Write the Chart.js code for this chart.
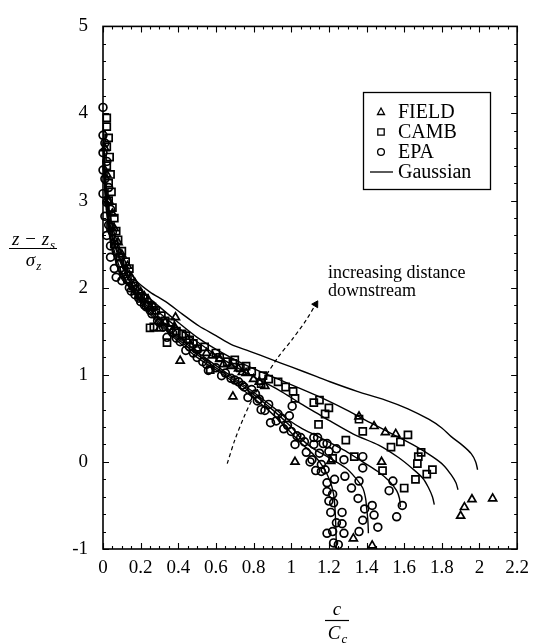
<!DOCTYPE html>
<html>
<head>
<meta charset="utf-8">
<script src="https://cdn.jsdelivr.net/npm/chart.js@4.4.0/dist/chart.umd.min.js"></script>
<style>
  html, body { margin: 0; padding: 0; background: #fff; }
</style>
</head>
<body>
<canvas id="grafico" width="537" height="644"></canvas>
<script>
// ticks
const xTicks = [0, 0.2, 0.4, 0.6, 0.8, 1, 1.2, 1.4, 1.6, 1.8, 2, 2.2];
const yTicks = [-1, 0, 1, 2, 3, 4, 5];

// legend names
const nomes = ["FIELD", "CAMB", "EPA", "Gaussian"];

// measured points [c/Cc, (z-zs)/sigma_z]
const field = [
  [0.01,3.6],[0.02,3.3],[0.03,3.0],[0.05,2.85],[0.06,2.68],[0.08,2.52],[0.1,2.38],[0.13,2.25],
  [0.15,2.12],[0.17,2.05],[0.2,1.95],[0.24,1.86],[0.3,1.53],[0.385,1.66],[0.41,1.16],[0.45,1.4],
  [0.5,1.3],[0.58,1.22],[0.64,1.12],[0.69,0.75],[0.72,1.07],[0.76,1.02],[0.8,0.95],[0.86,0.87],
  [0.22,1.9],[0.27,1.78],[0.33,1.6],[0.38,1.55],[0.55,1.25],[0.62,1.18],[0.68,1.1],[0.74,1.03],[0.83,0.92],
  [1.02,0.0],[1.21,0.01],[1.36,0.52],[1.44,0.41],[1.50,0.34],[1.555,0.32],[1.48,0.0],
  [1.33,-0.88],[1.43,-0.96],[1.90,-0.62],[1.92,-0.52],[1.96,-0.43],[2.07,-0.42]
];
const camb = [
  [0.02,3.95],[0.02,3.85],[0.03,3.72],[0.02,3.62],[0.035,3.5],[0.02,3.4],[0.04,3.3],[0.03,3.2],
  [0.045,3.1],[0.03,3.0],[0.05,2.92],[0.06,2.8],[0.04,2.7],[0.07,2.65],[0.08,2.55],[0.06,2.5],
  [0.1,2.42],[0.09,2.35],[0.12,2.3],[0.11,2.2],[0.14,2.22],[0.13,2.1],
  [0.16,2.02],[0.19,1.93],[0.22,1.88],[0.24,1.8],[0.28,1.74],[0.31,1.68],[0.25,1.54],[0.27,1.55],
  [0.17,1.98],[0.2,1.9],[0.26,1.78],[0.33,1.62],[0.39,1.5],[0.44,1.45],[0.48,1.36],[0.6,1.25],
  [0.7,1.17],[0.76,1.1],[0.88,0.95],[0.97,0.86],
  [0.34,1.37],[0.36,1.6],[0.42,1.47],[0.46,1.4],[0.5,1.3],[0.54,1.32],[0.57,1.06],[0.62,1.2],
  [0.66,1.15],[0.69,1.13],[0.73,1.08],[0.79,1.04],[0.84,0.9],[0.85,0.99],[0.93,0.92],[1.01,0.81],
  [1.12,0.68],[1.02,0.73],[1.15,0.71],[1.20,0.62],[1.18,0.55],[1.145,0.43],[1.36,0.49],[1.38,0.35],
  [1.29,0.25],[1.53,0.17],[1.58,0.23],[1.62,0.31],[1.335,0.06],[1.22,0.04],[1.485,-0.10],[1.69,0.11],
  [1.675,0.06],[1.67,-0.02],[1.75,-0.09],[1.72,-0.14],[1.66,-0.20],[1.60,-0.30]
];
const epa = [
  [0.0,4.07],[0.0,3.75],[0.01,3.66],[0.0,3.55],[0.02,3.45],[0.0,3.35],[0.01,3.25],[0.03,3.15],
  [0.0,3.08],[0.02,2.98],[0.04,2.9],[0.01,2.82],[0.03,2.72],[0.05,2.64],[0.02,2.6],[0.04,2.48],
  [0.07,2.42],[0.04,2.35],[0.06,2.22],[0.09,2.28],[0.07,2.12],[0.1,2.08],[0.12,2.16],
  [0.14,2.0],[0.17,1.92],[0.2,1.84],[0.23,1.78],[0.26,1.7],[0.29,1.62],[0.32,1.55],[0.34,1.43],
  [0.15,1.96],[0.19,1.88],[0.22,1.8],[0.25,1.74],[0.3,1.6],[0.36,1.52],[0.39,1.42],[0.46,1.32],
  [0.5,1.2],[0.55,1.12],[0.65,1.02],[0.7,0.94],[0.74,0.88],[0.81,0.78],[0.83,0.72],[0.88,0.66],
  [0.93,0.55],[0.95,0.5],[0.98,0.42],[1.0,0.35],[1.05,0.28],[1.12,0.2],[1.15,0.1],[1.2,0.12],
  [1.16,-0.03],[1.23,-0.2],[1.2,-0.45],[1.24,-0.7],[1.22,-0.8],
  [0.37,1.48],[0.41,1.38],[0.44,1.28],[0.48,1.25],[0.53,1.15],[0.56,1.05],[0.6,1.08],[0.63,0.99],
  [0.68,0.96],[0.72,0.92],[0.75,0.86],[0.77,0.74],[0.79,0.83],[0.82,0.7],[0.84,0.6],
  [0.86,0.59],[0.89,0.45],[0.92,0.47],[0.96,0.38],[0.99,0.53],[1.005,0.64],[1.03,0.30],[1.02,0.2],
  [1.07,0.23],[1.08,0.11],[1.10,0.0],[1.12,0.28],[1.14,0.28],[1.17,0.21],[1.19,0.21],[1.24,0.15],
  [1.11,0.025],[1.13,-0.1],[1.16,-0.11],[1.18,-0.09],[1.19,-0.24],[1.19,-0.34],[1.22,-0.37],
  [1.225,-0.47],[1.21,-0.58],[1.27,-0.58],[1.27,-0.71],[1.28,-0.82],[1.19,-0.82],[1.225,-0.93],
  [1.25,-0.95],[1.28,0.025],[1.285,-0.165],[1.32,-0.30],[1.36,-0.22],[1.355,-0.42],[1.39,-0.54],
  [1.38,-0.67],[1.36,-0.80],[1.43,-0.50],[1.44,-0.61],[1.46,-0.75],[1.38,0.06],[1.38,-0.07],
  [1.54,-0.22],[1.52,-0.33],[1.59,-0.50],[1.56,-0.63]
];

// gaussian profiles, nearest source (F) to farthest (A)
const gaussA = [[0.003,3.8],[0.01,3.4],[0.025,3.0],[0.05,2.7],[0.09,2.45],[0.14,2.2],[0.176,2.08],[0.25,1.95],
  [0.333,1.84],[0.42,1.70],[0.51,1.56],[0.6,1.45],[0.68,1.35],[0.78,1.27],[0.89,1.18],[1.0,1.09],
  [1.136,0.98],[1.206,0.92],[1.35,0.81],[1.50,0.71],[1.62,0.61],[1.73,0.49],[1.80,0.39],[1.85,0.29],
  [1.91,0.19],[1.956,0.095],[1.98,0.0],[1.99,-0.09]];
const gaussB = [[0.003,3.7],[0.01,3.3],[0.02,3.0],[0.045,2.65],[0.08,2.4],[0.13,2.15],[0.2,1.97],[0.3,1.78],
  [0.4,1.6],[0.5,1.43],[0.61,1.28],[0.75,1.12],[0.93,0.95],[1.136,0.76],[1.29,0.60],[1.42,0.45],
  [1.555,0.30],[1.66,0.18],[1.75,0.06],[1.81,-0.04],[1.85,-0.15],[1.875,-0.24],[1.886,-0.32]];
const gaussC = [[0.003,3.6],[0.01,3.25],[0.02,3.0],[0.04,2.65],[0.075,2.4],[0.12,2.15],[0.18,1.97],[0.28,1.75],
  [0.38,1.57],[0.5,1.38],[0.62,1.2],[0.78,1.0],[0.93,0.83],[1.05,0.67],[1.136,0.56],[1.206,0.47],
  [1.33,0.32],[1.467,0.19],[1.57,0.05],[1.64,-0.07],[1.70,-0.19],[1.73,-0.30],[1.75,-0.40],[1.76,-0.49]];
const gaussD = [[0.003,3.5],[0.01,3.2],[0.02,2.95],[0.04,2.6],[0.07,2.35],[0.11,2.12],[0.15,2.0],[0.25,1.75],
  [0.36,1.5],[0.54,1.2],[0.67,1.0],[0.80,0.8],[0.92,0.6],[0.98,0.49],[1.06,0.38],[1.136,0.30],
  [1.206,0.22],[1.30,0.11],[1.38,0.0],[1.46,-0.11],[1.52,-0.22],[1.56,-0.33],[1.575,-0.42],[1.58,-0.52]];
const gaussE = [[0.003,3.5],[0.01,3.15],[0.02,2.9],[0.04,2.55],[0.07,2.3],[0.1,2.12],[0.146,2.0],[0.25,1.72],
  [0.35,1.5],[0.52,1.2],[0.655,1.0],[0.785,0.8],[0.9,0.6],[1.0,0.4],[1.06,0.25],[1.12,0.15],
  [1.2,0.05],[1.29,-0.07],[1.34,-0.18],[1.38,-0.30],[1.395,-0.42],[1.40,-0.52],[1.407,-0.67],[1.41,-0.82]];
const gaussF = [[0.003,3.45],[0.01,3.1],[0.02,2.85],[0.04,2.52],[0.07,2.28],[0.1,2.1],[0.142,2.0],[0.24,1.72],
  [0.34,1.5],[0.50,1.2],[0.64,1.0],[0.76,0.8],[0.875,0.6],[0.97,0.4],[1.05,0.22],[1.12,0.08],
  [1.17,-0.06],[1.206,-0.22],[1.225,-0.37],[1.232,-0.52],[1.237,-0.75],[1.24,-1.0]];

// dashed arrow "increasing distance downstream"
const seta = [[0.66,-0.02],[0.70,0.25],[0.75,0.52],[0.80,0.75],[0.86,0.97],[0.93,1.2],[1.01,1.42],[1.08,1.63],[1.13,1.81]];

const pts = arr => arr.map(p => ({ x: p[0], y: p[1] }));

Chart.defaults.font.family = "'Liberation Serif', 'Times New Roman', serif";
Chart.defaults.color = "#000";

function curva(dados) {
  return {
    type: "line", data: pts(dados), showLine: true, borderColor: "#000",
    borderWidth: 1.4, pointRadius: 0, tension: 0.3, fill: false
  };
}

function marcadores(dados, estilo, raio) {
  return {
    type: "scatter", data: pts(dados), showLine: false, pointStyle: estilo,
    pointRadius: raio, pointBorderColor: "#000", pointBackgroundColor: "rgba(0,0,0,0)",
    pointBorderWidth: 1.7, clip: 8
  };
}

function desenhaMarca(ctx, estilo, x, y) {
  ctx.beginPath();
  if (estilo === "triangle") {
    ctx.moveTo(x, y - 4); ctx.lineTo(x + 3.5, y + 2.5); ctx.lineTo(x - 3.5, y + 2.5); ctx.closePath();
  } else if (estilo === "rect") {
    ctx.rect(x - 3.2, y - 3.2, 6.4, 6.4);
  } else {
    ctx.arc(x, y, 3.4, 0, Math.PI * 2);
  }
  ctx.stroke();
}

function fracao(ctx, cx, yNum, yBarra, yDen, num, numSub, den, denSub, meia) {
  const fBase = "italic 19px 'Liberation Serif', serif";
  const fSub = "italic 13px 'Liberation Serif', serif";
  function parte(txt, sub, yb) {
    ctx.font = fBase;
    const w1 = ctx.measureText(txt).width;
    ctx.font = fSub;
    const w2 = ctx.measureText(sub).width;
    const x0 = cx - (w1 + w2) / 2;
    ctx.font = fBase;
    ctx.fillText(txt, x0, yb);
    ctx.font = fSub;
    ctx.fillText(sub, x0 + w1 + 1, yb + 4);
  }
  ctx.textAlign = "left";
  ctx.textBaseline = "alphabetic";
  parte(num, numSub, yNum);
  parte(den, denSub, yDen);
  ctx.lineWidth = 1.2;
  ctx.beginPath();
  ctx.moveTo(cx - meia, yBarra); ctx.lineTo(cx + meia, yBarra);
  ctx.stroke();
}

const decoracao = {
  id: "decoracao",
  afterDraw(chart) {
    const { ctx, chartArea: a, scales } = chart;
    const sx = scales.x, sy = scales.y;
    ctx.save();
    ctx.strokeStyle = "#000";
    ctx.fillStyle = "#000";

    // box
    ctx.lineWidth = 1.6;
    ctx.strokeRect(a.left, a.top, a.right - a.left, a.bottom - a.top);

    // inward ticks on four sides
    ctx.lineWidth = 1.1;
    ctx.beginPath();
    for (let i = 0; i <= 44; i++) {
      const px = Math.round(sx.getPixelForValue(i * 0.05)) + 0.5;
      const len = i % 4 === 0 ? 6 : 3;
      ctx.moveTo(px, a.bottom); ctx.lineTo(px, a.bottom - len);
      ctx.moveTo(px, a.top); ctx.lineTo(px, a.top + len);
    }
    for (let i = 0; i <= 30; i++) {
      const py = Math.round(sy.getPixelForValue(-1 + i * 0.2)) + 0.5;
      const len = i % 5 === 0 ? 6 : 3;
      ctx.moveTo(a.left, py); ctx.lineTo(a.left + len, py);
      ctx.moveTo(a.right, py); ctx.lineTo(a.right - len, py);
    }
    ctx.stroke();

    // legend
    const lx = 363.5, ly = 92.5;
    ctx.lineWidth = 1.3;
    ctx.strokeRect(lx, ly, 127, 97);
    const estilos = ["triangle", "rect", "circle"];
    ctx.font = "20px 'Liberation Serif', serif";
    ctx.textAlign = "left";
    ctx.textBaseline = "middle";
    nomes.forEach((n, i) => {
      const yy = 112 + i * 20;
      ctx.lineWidth = 1.3;
      if (i < 3) {
        desenhaMarca(ctx, estilos[i], 381, yy);
      } else {
        ctx.beginPath(); ctx.moveTo(370, yy); ctx.lineTo(393, yy); ctx.stroke();
      }
      ctx.fillText(n, 398, yy + 1);
    });

    // annotation
    ctx.font = "18px 'Liberation Serif', serif";
    ctx.fillText("increasing distance", 328, 273);
    ctx.fillText("downstream", 328, 291);

    // axis titles as fractions
    fracao(ctx, 33, 245, 248.5, 266, "z − z", "s", "σ", "z", 24);
    fracao(ctx, 337, 615, 620.5, 639, "c", "", "C", "c", 12);

    ctx.restore();
  }
};

const datasets = [
  curva(gaussA), curva(gaussB), curva(gaussC), curva(gaussD), curva(gaussE), curva(gaussF),
  marcadores(field, "triangle", 4.6),
  marcadores(camb, "rect", 5.0),
  marcadores(epa, "circle", 3.9),
  {
    type: "line", data: pts(seta), showLine: true, borderColor: "#000", borderWidth: 1.2,
    borderDash: [4, 3], tension: 0.3, fill: false,
    pointRadius: seta.map((p, i) => i === seta.length - 1 ? 4 : 0),
    pointStyle: "triangle", pointRotation: 31,
    pointBackgroundColor: "#000", pointBorderColor: "#000", pointBorderWidth: 1
  }
];

new Chart(document.getElementById("grafico"), {
  type: "scatter",
  data: { datasets: datasets },
  options: {
    responsive: false,
    animation: false,
    devicePixelRatio: 1,
    layout: { padding: { left: 0, right: 14, top: 16, bottom: 0 } },
    plugins: { legend: { display: false }, tooltip: { enabled: false } },
    scales: {
      x: {
        type: "linear", min: 0, max: 2.2,
        afterBuildTicks: s => { s.ticks = xTicks.map(v => ({ value: v })); },
        afterFit: s => { s.height = 95; },
        grid: { display: false, drawTicks: false },
        border: { display: false },
        ticks: { font: { size: 19 }, padding: 8, maxRotation: 0, autoSkip: false,
          callback: v => String(+v.toFixed(1)) }
      },
      y: {
        type: "linear", min: -1, max: 5,
        afterBuildTicks: s => { s.ticks = yTicks.map(v => ({ value: v })); },
        afterFit: s => { s.width = 103; },
        grid: { display: false, drawTicks: false },
        border: { display: false },
        ticks: { font: { size: 19 }, padding: 15, autoSkip: false,
          callback: v => String(v) }
      }
    }
  },
  plugins: [decoracao]
});
</script>
</body>
</html>
